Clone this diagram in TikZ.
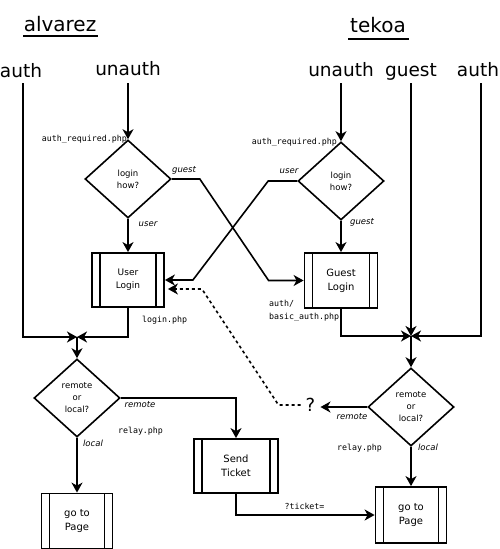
\documentclass[tikz,border=0pt]{standalone}
\usepackage{fontspec}
\setmainfont{DejaVu Sans}
\setmonofont{DejaVu Sans Mono}
\usetikzlibrary{shapes.geometric,arrows.meta,calc}
\tikzset{
  flow/.style={line width=1.6pt,-{Stealth[length=10pt,width=11pt,inset=3pt]}},
  dflow/.style={flow,dash pattern=on 3pt off 3pt},
  titlelbl/.style={inner sep=0pt,anchor=base,font=\fontsize{20}{24}\selectfont},
  toplbl/.style={inner sep=0pt,anchor=base,font=\fontsize{18.5}{22}\selectfont},
  decision/.style={diamond,draw,line width=1.6pt,inner sep=0pt,align=center,
    minimum width=86pt,minimum height=78pt,font=\fontsize{8.5}{12}\selectfont},
  proc/.style={draw,line width=1.8pt,inner sep=0pt,align=center,
    path picture={
      \draw[line width=1.8pt] ([xshift=8pt]path picture bounding box.north west) -- ([xshift=8pt]path picture bounding box.south west);
      \draw[line width=1.8pt] ([xshift=-8pt]path picture bounding box.north east) -- ([xshift=-8pt]path picture bounding box.south east);
    }},
  filelbl/.style={inner sep=0pt,font=\ttfamily\fontsize{8.3}{13}\selectfont,align=left},
  caselbl/.style={inner sep=0pt,font=\itshape\fontsize{8.5}{10}\selectfont},
}
\begin{document}
\begin{tikzpicture}[x=1pt,y=-1pt]
\useasboundingbox (0,0) rectangle (500,549);
% titles
\node[titlelbl] (alv) at (60,31) {alvarez};
\node[titlelbl] (tek) at (378,32) {tekoa};
\draw[line width=1.6pt] (23,36) -- (98,36);
\draw[line width=1.6pt] (348,39) -- (409,39);
% entry labels
\node[toplbl] (lauth) at (21,77) {auth};
\node[toplbl] (lun) at (128,75) {unauth};
\node[toplbl] (run) at (341,76) {unauth};
\node[toplbl] (rguest) at (411,76) {guest};
\node[toplbl] (rauth) at (478,76) {auth};
% junctions
\coordinate (J1) at (77,337);
\coordinate (J2) at (411,336);
% left upper
\node[decision] (d1) at (128,179) {login\\how?};
\node[proc,minimum width=72pt,minimum height=54pt,font=\fontsize{9}{13}\selectfont] (ul) at (128,280) {User\\Login};
\node[filelbl,anchor=east] (f1) at (127,139) {auth\_required.php};
\node[caselbl] (c1) at (148,224) {user};
\node[caselbl] (c2) at (184,170) {guest};
\node[filelbl,anchor=west] (f2) at (142,320) {login.php};
% right upper
\node[decision] (d2) at (341,181) {login\\how?};
\node[proc,minimum width=73pt,minimum height=55pt,font=\fontsize{10}{14}\selectfont] (gl) at (341,280.5) {Guest\\Login};
\node[filelbl,anchor=east] (f3) at (337,142) {auth\_required.php};
\node[caselbl] (c3) at (289,171) {user};
\node[caselbl] (c4) at (362,222) {guest};
\node[filelbl,anchor=north west] (f4) at (269,300) {auth/\\basic\_auth.php};
% right lower
\node[decision] (d3) at (411,407) {remote\\or\\local?};
\node[inner sep=5pt,font=\fontsize{18}{22}\selectfont] (q) at (310.5,405) {?};
\node[caselbl] (c5) at (352,417) {remote};
\node[filelbl] (f5) at (359.5,448) {relay.php};
\node[caselbl] (c6) at (428,447) {local};
\node[proc,minimum width=71pt,minimum height=56pt,font=\fontsize{10}{14}\selectfont] (rp) at (411,515) {go to\\Page};
% left lower
\node[decision] (d4) at (77,398) {remote\\or\\local?};
\node[caselbl] (c7) at (140,405) {remote};
\node[filelbl] (f6) at (140.5,431) {relay.php};
\node[caselbl] (c8) at (93,443) {local};
\node[proc,minimum width=71pt,minimum height=55pt,font=\fontsize{10}{14}\selectfont] (lp) at (77,521) {go to\\Page};
\node[proc,minimum width=84pt,minimum height=54pt,font=\fontsize{10}{14}\selectfont] (st) at (236,466) {Send\\Ticket};
\node[filelbl] (f7) at (304.5,506) {?ticket=};
% connectors
\draw[flow] ([shift={(2pt,-6pt)}]lauth.base) |- (J1);
\draw[flow] ([yshift=-8pt]lun.base) -- (d1.north);
\draw[flow] (d1.south) -- (ul.north);
\draw[flow] (d1.east) -- ++(28,0) -- ($(gl.west)+(-35,0)$) -- (gl.west);
\draw[flow] ([yshift=-7pt]run.base) -- (d2.north);
\draw[flow] (d2.south) -- (gl.north);
\draw[flow] (d2.west) -- ++(-29,0) -- ($(ul.east)+(28,0)$) -- (ul.east);
\draw[flow] (ul.south) |- (J1);
\draw[flow] (gl.south) |- (J2);
\draw[flow] ([yshift=-7pt]rguest.base) -- (J2);
\draw[flow] ([shift={(3pt,-7pt)}]rauth.base) |- (J2);
\draw[flow] (J2) -- (d3.north);
\draw[flow] (d3.west) -- (d3.west -| q.east);
\draw[dflow] (q.west) -- ++(-22,0) -- ($(ul.east)+(37,9)$) -- ($(ul.east)+(3,9)$);
\draw[flow] (d3.south) -- (rp.north);
\draw[flow] (J1) -- (d4.north);
\draw[flow] (d4.east) -| (st.north);
\draw[flow] (d4.south) -- (lp.north);
\draw[flow] (st.south) |- (rp.west);
\end{tikzpicture}
\end{document}
